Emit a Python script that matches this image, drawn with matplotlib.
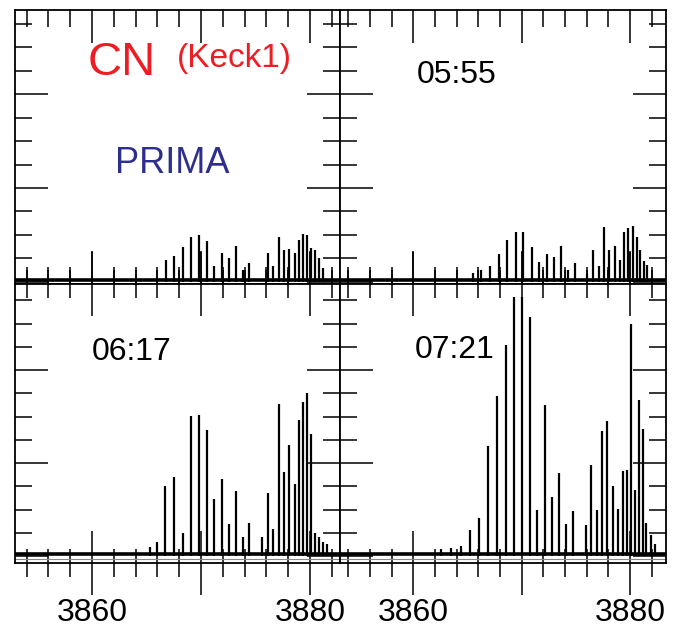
import matplotlib
matplotlib.use("Agg")
import matplotlib.pyplot as plt
from matplotlib.ticker import FixedLocator, FixedFormatter, MultipleLocator

plt.rcParams['font.family'] = ['Liberation Sans', 'DejaVu Sans']

# line positions (Angstrom) and peak heights (arbitrary units)
wl_prima = [3866.76, 3867.52, 3868.32, 3869.08, 3869.82, 3870.58, 3871.22, 3871.96,
            3872.57, 3873.21, 3873.83, 3874.43, 3876.12, 3876.63, 3877.16, 3877.65,
            3878.10, 3878.60, 3878.99, 3879.39, 3879.76, 3880.09, 3880.45, 3880.80, 3881.20]
h_prima = [0.94, 1.10, 1.48, 1.89, 2.01, 1.72, 0.65, 1.23,
           1.00, 1.54, 0.50, 0.78, 1.23, 0.65, 1.90, 1.37,
           1.40, 1.23, 1.77, 2.05, 1.99, 1.42, 1.35, 1.00, 0.60]

wl_0555 = [3865.52, 3866.30, 3867.07, 3867.87, 3868.67, 3869.44, 3870.15, 3870.93,
           3871.64, 3872.35, 3873.00, 3873.64, 3874.29, 3874.91, 3876.02, 3876.60,
           3877.10, 3877.62, 3878.09, 3878.61, 3879.07, 3879.47, 3879.85, 3880.25,
           3880.62, 3880.95, 3881.32, 3881.60]
h_0555 = [0.36, 0.50, 0.67, 1.20, 1.77, 2.13, 2.13, 1.47,
          0.83, 1.20, 1.06, 1.54, 0.48, 0.78, 0.33, 1.34,
          0.68, 2.32, 1.34, 1.51, 0.91, 2.13, 2.30, 2.37,
          1.91, 1.34, 0.87, 0.71]

wl_0617 = [3865.30, 3865.93, 3866.70, 3867.52, 3868.32, 3869.08, 3869.82, 3870.58,
           3871.22, 3871.96, 3872.57, 3873.21, 3873.83, 3874.43, 3875.57, 3876.12,
           3876.63, 3877.16, 3877.65, 3878.10, 3878.60, 3878.99, 3879.39, 3879.76,
           3880.09, 3880.45, 3880.85, 3881.20, 3881.60]
h_0617 = [0.40, 0.59, 3.02, 3.42, 0.99, 6.02, 6.08, 5.42,
          2.45, 3.30, 1.37, 2.80, 0.80, 1.40, 0.80, 2.69,
          1.16, 6.52, 3.62, 4.76, 3.09, 5.85, 6.62, 7.00,
          5.24, 1.00, 0.80, 0.60, 0.50]

wl_0721 = [3862.60, 3863.50, 3864.40, 3865.28, 3866.11, 3866.91, 3867.72, 3868.52,
           3869.29, 3870.06, 3870.80, 3871.45, 3872.19, 3872.81, 3873.49, 3874.10,
           3874.75, 3875.93, 3876.45, 3876.94, 3877.44, 3877.93, 3878.45, 3878.92,
           3879.32, 3879.69, 3880.09, 3880.43, 3880.80, 3881.17, 3881.50, 3881.90,
           3882.30]
h_0721 = [0.30, 0.35, 0.45, 1.10, 1.64, 4.72, 6.87, 9.08,
          11.16, 11.16, 10.26, 1.96, 6.48, 2.53, 3.58, 1.39,
          1.93, 1.32, 3.91, 1.96, 5.39, 5.79, 3.00, 2.03,
          3.65, 3.72, 10.00, 2.82, 6.70, 5.46, 1.40, 0.90,
          0.50]

x_major = [3860, 3870, 3880]
x_labels = ['3860', '', '3880']

fig = plt.figure(figsize=(6.93, 6.28), dpi=100)

W, H = 693.0, 628.0
boxes = {
    'tl': (15, 10, 340, 284),
    'tr': (340, 10, 666, 284),
    'bl': (15, 284, 340, 563),
    'br': (340, 284, 666, 563),
}
xlims = {'tl': (3852.94, 3882.75), 'bl': (3852.94, 3882.75),
         'tr': (3853.24, 3883.33), 'br': (3853.24, 3883.33)}
ylims = {'tl': (-0.1, 11.6), 'tr': (-0.1, 11.6),
         'bl': (-0.3, 11.7), 'br': (-0.3, 11.7)}
series = {'tl': (wl_prima, h_prima), 'tr': (wl_0555, h_0555),
          'bl': (wl_0617, h_0617), 'br': (wl_0721, h_0721)}

axes = {}
for key, (x0, y0, x1, y1) in boxes.items():
    ax = fig.add_axes([x0 / W, 1 - y1 / H, (x1 - x0) / W, (y1 - y0) / H])
    axes[key] = ax
    wl, h = series[key]
    ax.vlines(wl, 0, h, color='black', lw=1.6)
    ax.plot(xlims[key], [0.08, 0.08], color='black', lw=2.6, solid_capstyle='butt')
    ax.plot(xlims[key], [-0.12, -0.12], color='#888888', lw=0.8)
    ax.set_xlim(*xlims[key])
    ax.set_ylim(*ylims[key])

    ax.xaxis.set_major_locator(FixedLocator(x_major))
    ax.xaxis.set_minor_locator(MultipleLocator(2))
    ax.yaxis.set_major_locator(FixedLocator([0, 4, 8]))
    ax.yaxis.set_minor_locator(MultipleLocator(1))
    ax.tick_params(which='both', direction='in', top=True, right=True,
                   bottom=True, left=True, width=1.1, color='black')
    ax.tick_params(which='major', length=24)
    ax.tick_params(which='minor', length=12)
    ax.set_yticklabels([])
    for sp in ax.spines.values():
        sp.set_linewidth(1.3)

    if key in ('bl', 'br'):
        ax.tick_params(axis='x', which='major', direction='inout', length=46,
                       labelsize=23, pad=2)
        ax.tick_params(axis='x', which='minor', direction='inout', length=20)
        ax.xaxis.set_major_formatter(FixedFormatter(x_labels))
    else:
        ax.set_xticklabels([])

red = '#ee1d23'
axes['tl'].text(0.225, 0.763, 'CN', color=red, fontsize=34,
                transform=axes['tl'].transAxes, ha='left', va='baseline')
axes['tl'].text(0.498, 0.792, '(Keck1)', color=red, fontsize=24,
                transform=axes['tl'].transAxes, ha='left', va='baseline')
axes['tl'].text(0.308, 0.405, 'PRIMA', color='#2e2e8c', fontsize=26,
                transform=axes['tl'].transAxes, ha='left', va='baseline')
axes['tr'].text(0.236, 0.734, '05:55', color='black', fontsize=23,
                transform=axes['tr'].transAxes, ha='left', va='baseline')
axes['bl'].text(0.237, 0.728, '06:17', color='black', fontsize=23,
                transform=axes['bl'].transAxes, ha='left', va='baseline')
axes['br'].text(0.230, 0.735, '07:21', color='black', fontsize=23,
                transform=axes['br'].transAxes, ha='left', va='baseline')

fig.savefig('out.png', dpi=100)
